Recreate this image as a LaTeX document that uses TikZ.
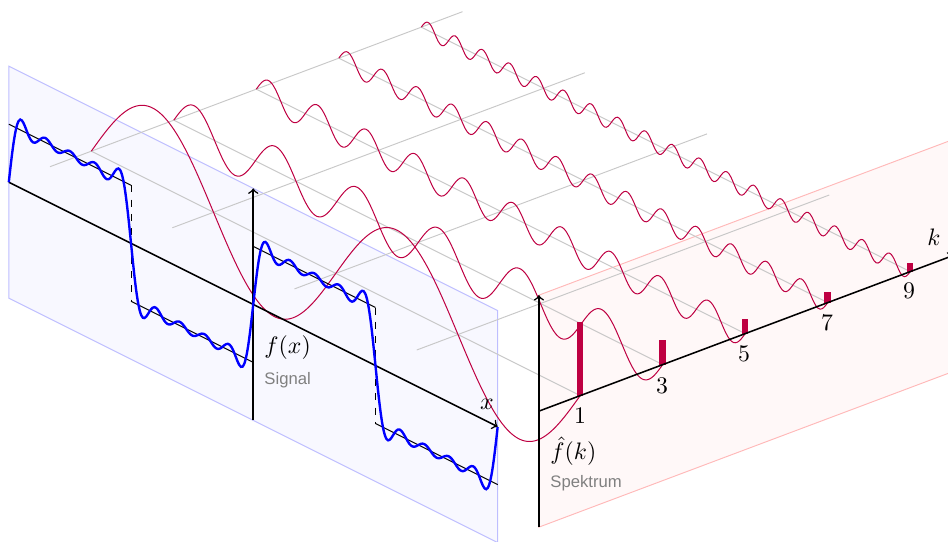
\documentclass[tikz,border=0pt]{standalone}
\usepackage{fontspec}
\setsansfont{Liberation Sans}
\definecolor{wavered}{RGB}{190,0,66}
\definecolor{bluefill}{RGB}{248,248,255}
\definecolor{blueedge}{RGB}{190,190,255}
\definecolor{redfill}{RGB}{255,248,248}
\definecolor{rededge}{RGB}{255,185,185}
\definecolor{gridgray}{RGB}{200,200,200}
\tikzset{
  bluepane/.style={fill=bluefill,draw=blueedge,line width=0.4pt},
  redpane/.style={fill=redfill,draw=rededge,line width=0.4pt},
  gridline/.style={draw=gridgray,line width=0.4pt},
  harmonic/.style={draw=wavered,line width=0.42pt,smooth},
  signalcurve/.style={draw=blue,line width=1pt,smooth},
  idealwave/.style={draw=black,line width=0.4pt},
  mainaxis/.style={draw=black,line width=0.65pt,->},
  specbar/.style={draw=wavered,line width=2.7pt},
  caption/.style={font=\sffamily\scriptsize,text=gray,inner sep=0pt,anchor=west},
  mathlabel/.style={inner sep=0pt}
}
\begin{document}
\begin{tikzpicture}[x=0.42pt,y=-0.42pt,
  declare function={sq(\t)=4/pi*(sin(\t r)+sin((3*\t) r)/3+sin((5*\t) r)/5+sin((7*\t) r)/7+sin((9*\t) r)/9);}]
\useasboundingbox (0,0) rectangle (948,541);
\clip (0,0) rectangle (948,541);
\begin{scope}[shift={(294.5,288.9)},x={(16.34pt,-8.17pt)},y={(17.325pt,6.51pt)},z={(0pt,24.36pt)}]
  % panes
  \path[redpane] (2*pi,0,-2) -- (2*pi,10,-2) -- (2*pi,10,2) -- (2*pi,0,2) -- cycle;
  \path[bluepane] (-2*pi,-1,-2) -- (2*pi,-1,-2) -- (2*pi,-1,2) -- (-2*pi,-1,2) -- cycle;
  % grid
  \foreach \t in {-2,-1,0,1}
    \path[gridline] ({\t*pi},0,0) -- ({\t*pi},10,0);
  \foreach \k in {1,3,5,7,9}
    \path[gridline] (-2*pi,\k,0) -- (2*pi,\k,0);
  % harmonics
  \foreach \k in {1,3,5,7,9}
    \path[harmonic] plot[domain=-2*pi:2*pi,samples=260,variable=\t] (\t,\k,{4/(pi*\k)*sin((\k*\t) r)});
  % bars
  \foreach \k in {1,3,5,7,9}
    \path[specbar] (2*pi,\k,0) -- (2*pi,\k,{4/(pi*\k)});
  % axes
  \coordinate (xstart) at (-2*pi,-1,0);
  \coordinate (xend) at (2*pi,-1,0);
  \coordinate (zbot) at (0,-1,-2);
  \coordinate (ztop) at (0,-1,2);
  \coordinate (kstart) at (2*pi,0,0);
  \coordinate (kend) at (2*pi,10.05,0);
  \coordinate (hbot) at (2*pi,0,-2);
  \coordinate (htop) at (2*pi,0,2);
  \path[mainaxis] (xstart) -- (xend);
  \path[mainaxis] (zbot) -- (ztop);
  \path[mainaxis] (kstart) -- (kend);
  \path[mainaxis] (hbot) -- (htop);
  % ideal square wave
  \path[idealwave] (-2*pi,-1,1) -- (-pi,-1,1);
  \path[idealwave,dashed] (-pi,-1,1) -- (-pi,-1,-1);
  \path[idealwave] (-pi,-1,-1) -- (0,-1,-1);
  \path[idealwave] (0,-1,1) -- (pi,-1,1);
  \path[idealwave,dashed] (pi,-1,1) -- (pi,-1,-1);
  \path[idealwave] (pi,-1,-1) -- (2*pi,-1,-1);
  % signal
  \path[signalcurve] plot[domain=-2*pi:2*pi,samples=300,variable=\t] (\t,-1,{sq(\t)});
\end{scope}
% labels
\node[mathlabel] (lx) at (487,404) {$x$};
\node[mathlabel] (lk) at (934,237) {$k$};
\node[mathlabel,anchor=west] (lf) at (264,348) {$f(x)$};
\node[caption] (ls) at (264,380) {Signal};
\node[mathlabel,anchor=west] (lh) at (550,451) {$\hat f(k)$};
\node[caption] (lp) at (550,483) {Spektrum};
\node[mathlabel] (n1) at (580,416) {1};
\node[mathlabel] (n3) at (662,386) {3};
\node[mathlabel] (n5) at (744,354) {5};
\node[mathlabel] (n7) at (827,323) {7};
\node[mathlabel] (n9) at (909,291) {9};
\end{tikzpicture}
\end{document}
